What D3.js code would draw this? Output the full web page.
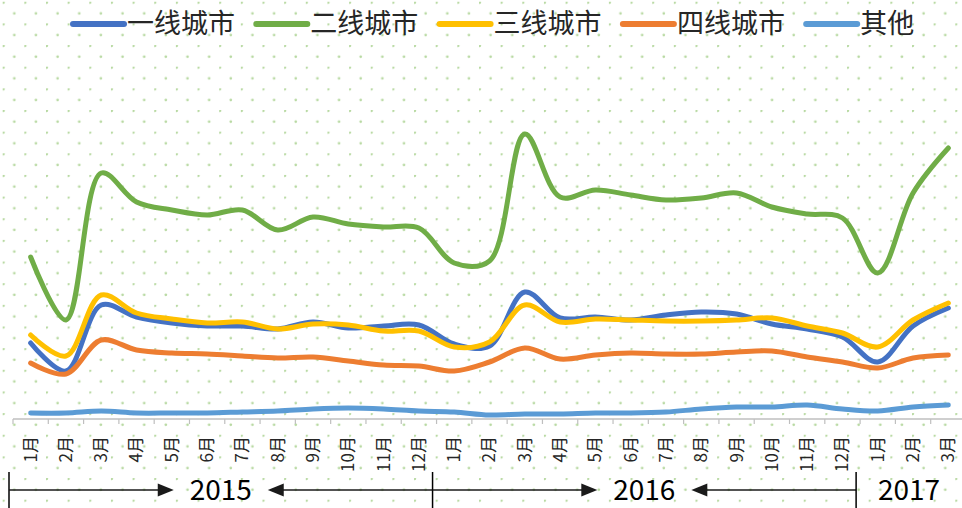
<!DOCTYPE html>
<html>
<head>
<meta charset="utf-8">
<script src="https://cdn.jsdelivr.net/npm/d3@7"></script>
<style>
  html, body { margin: 0; padding: 0; background: #fff; }
  svg { display: block; }
</style>
</head>
<body>
<svg id="chart"></svg>
<script>
// data
const years = ['2015', '2016', '2017']
const monthsPerYear = [12, 12, 3]
const months = monthsPerYear.flatMap((n) => d3.range(1, n + 1).map((m) => m + '月'))
const seriesNames = ['一线城市', '二线城市', '三线城市', '四线城市', '其他']
const colors = ['#4472C4', '#70AD47', '#FFC000', '#ED7D31', '#5B9BD5']

const tier1 = [76, 48, 114, 102, 96, 93, 93, 90, 97, 91, 93, 94, 75, 73, 127, 101, 102, 99, 104, 107, 105, 95, 90, 82, 57, 93, 111]
const tier2 = [162, 99, 246, 217, 209, 204, 209, 189, 202, 195, 192, 191, 156, 158, 285, 222, 229, 224, 219, 221, 226, 212, 205, 201, 146, 226, 271]
const tier3 = [84, 63, 124, 106, 100, 96, 97, 90, 95, 94, 88, 88, 72, 77, 114, 97, 100, 99, 98, 98, 99, 101, 93, 86, 72, 99, 116]
const tier4 = [56, 45, 79, 69, 66, 65, 63, 61, 62, 58, 54, 53, 48, 57, 71, 60, 64, 66, 65, 65, 67, 68, 62, 57, 51, 61, 64]
const others = [6, 6, 8, 6, 6, 6, 7, 8, 10, 11, 10, 8, 7, 4, 5, 5, 6, 6, 7, 10, 12, 12, 14, 10, 8, 12, 14]
const seriesValues = [tier1, tier2, tier3, tier4, others]

const width = 962
const height = 508
const axisY = 419
const font = '"Noto Sans CJK SC", "Noto Sans", sans-serif'

const svg = d3.select('#chart').attr('width', width).attr('height', height)

// dotted background
const defs = svg.append('defs')
const pat = defs
  .append('pattern')
  .attr('id', 'dots')
  .attr('patternUnits', 'userSpaceOnUse')
  .attr('x', 2.7)
  .attr('y', 1.75)
  .attr('width', 21.65)
  .attr('height', 21.65)
pat.append('circle').attr('cx', 0.8).attr('cy', 0.8).attr('r', 1.35).attr('fill', '#b8d9a2')
pat.append('circle').attr('cx', 11.6).attr('cy', 11.6).attr('r', 1.35).attr('fill', '#b8d9a2')
svg.append('rect').attr('width', width).attr('height', height).attr('fill', 'url(#dots)')

const keys = months.map((m, i) => i)
const x = d3.scaleBand().domain(keys).range([13, 966]).padding(0)
const y = d3.scaleLinear().domain([0, 400]).range([axisY, 19])

// axis line + ticks between categories
const axis = svg.append('g')
axis
  .append('line')
  .attr('x1', x.range()[0])
  .attr('x2', x.range()[1])
  .attr('y1', axisY)
  .attr('y2', axisY)
  .attr('stroke', '#bfbfbf')
  .attr('stroke-width', 1.5)
axis
  .selectAll('line.tick')
  .data(d3.range(keys.length + 1))
  .join('line')
  .attr('class', 'tick')
  .attr('x1', (d) => x.range()[0] + d * x.step())
  .attr('x2', (d) => x.range()[0] + d * x.step())
  .attr('y1', axisY)
  .attr('y2', axisY + 5)
  .attr('stroke', '#bfbfbf')
  .attr('stroke-width', 1.2)

// month labels (rotated)
const xAxis = d3.axisBottom(x).tickSize(0).tickFormat((i) => months[i])
const gx = svg.append('g').attr('transform', `translate(0, ${axisY})`).call(xAxis)
gx.select('.domain').remove()
gx.selectAll('text')
  .attr('transform', 'rotate(-90)')
  .attr('x', -17)
  .attr('y', 0)
  .attr('dy', '0.35em')
  .attr('text-anchor', 'end')
  .attr('fill', '#262626')
  .style('font-family', font)
  .style('font-size', '17px')

// lines
const line = d3
  .line()
  .x((d, i) => x(i) + x.bandwidth() / 2)
  .y((d) => y(d))
  .curve(d3.curveCatmullRom.alpha(0.5))

svg
  .append('g')
  .selectAll('path')
  .data(seriesValues)
  .join('path')
  .attr('d', line)
  .attr('fill', 'none')
  .attr('stroke', (d, i) => colors[i])
  .attr('stroke-width', 5)
  .attr('stroke-linecap', 'round')
  .attr('stroke-linejoin', 'round')

// legend
const legend = svg
  .append('g')
  .selectAll('g')
  .data(seriesNames)
  .join('g')
  .attr('transform', (d, i) => `translate(${71 + i * 183.3}, 24)`)
legend
  .append('line')
  .attr('x1', 2)
  .attr('x2', 53)
  .attr('stroke', (d, i) => colors[i])
  .attr('stroke-width', 6)
  .attr('stroke-linecap', 'round')
legend
  .append('text')
  .attr('x', 56)
  .attr('dy', '0.35em')
  .attr('fill', '#262626')
  .style('font-family', font)
  .style('font-size', '27px')
  .text((d) => d)

// year brackets
const yearRow = svg.append('g')
let start = 0
const bounds = monthsPerYear.map((n) => {
  const b = [start, start + n]
  start += n
  return b
})
const edge = (i) => x.range()[0] + i * x.step() - 4
const arrowY = 490

bounds.forEach(([a, b], k) => {
  const left = edge(a)
  const right = Math.min(edge(b), width)
  const mid = (left + right) / 2

  yearRow
    .append('line')
    .attr('x1', left)
    .attr('x2', left)
    .attr('y1', 472)
    .attr('y2', height)
    .attr('stroke', '#000')
    .attr('stroke-width', 1.5)

  yearRow
    .append('text')
    .attr('x', mid)
    .attr('y', arrowY)
    .attr('dy', '0.36em')
    .attr('text-anchor', 'middle')
    .attr('fill', '#000')
    .style('font-family', font)
    .style('font-size', '28px')
    .text(years[k])

  if (b - a >= 12) {
    const tipL = mid - 47
    const tipR = mid + 47
    yearRow
      .append('line')
      .attr('x1', left)
      .attr('x2', tipL - 10)
      .attr('y1', arrowY)
      .attr('y2', arrowY)
      .attr('stroke', '#1a1a1a')
      .attr('stroke-width', 1.5)
    yearRow
      .append('path')
      .attr('d', `M${tipL},${arrowY}L${tipL - 16},${arrowY - 6.5}L${tipL - 16},${arrowY + 6.5}Z`)
      .attr('fill', '#1a1a1a')
    yearRow
      .append('line')
      .attr('x1', tipR + 10)
      .attr('x2', edge(b))
      .attr('y1', arrowY)
      .attr('y2', arrowY)
      .attr('stroke', '#1a1a1a')
      .attr('stroke-width', 1.5)
    yearRow
      .append('path')
      .attr('d', `M${tipR},${arrowY}L${tipR + 16},${arrowY - 6.5}L${tipR + 16},${arrowY + 6.5}Z`)
      .attr('fill', '#1a1a1a')
  }
})
</script>
</body>
</html>
